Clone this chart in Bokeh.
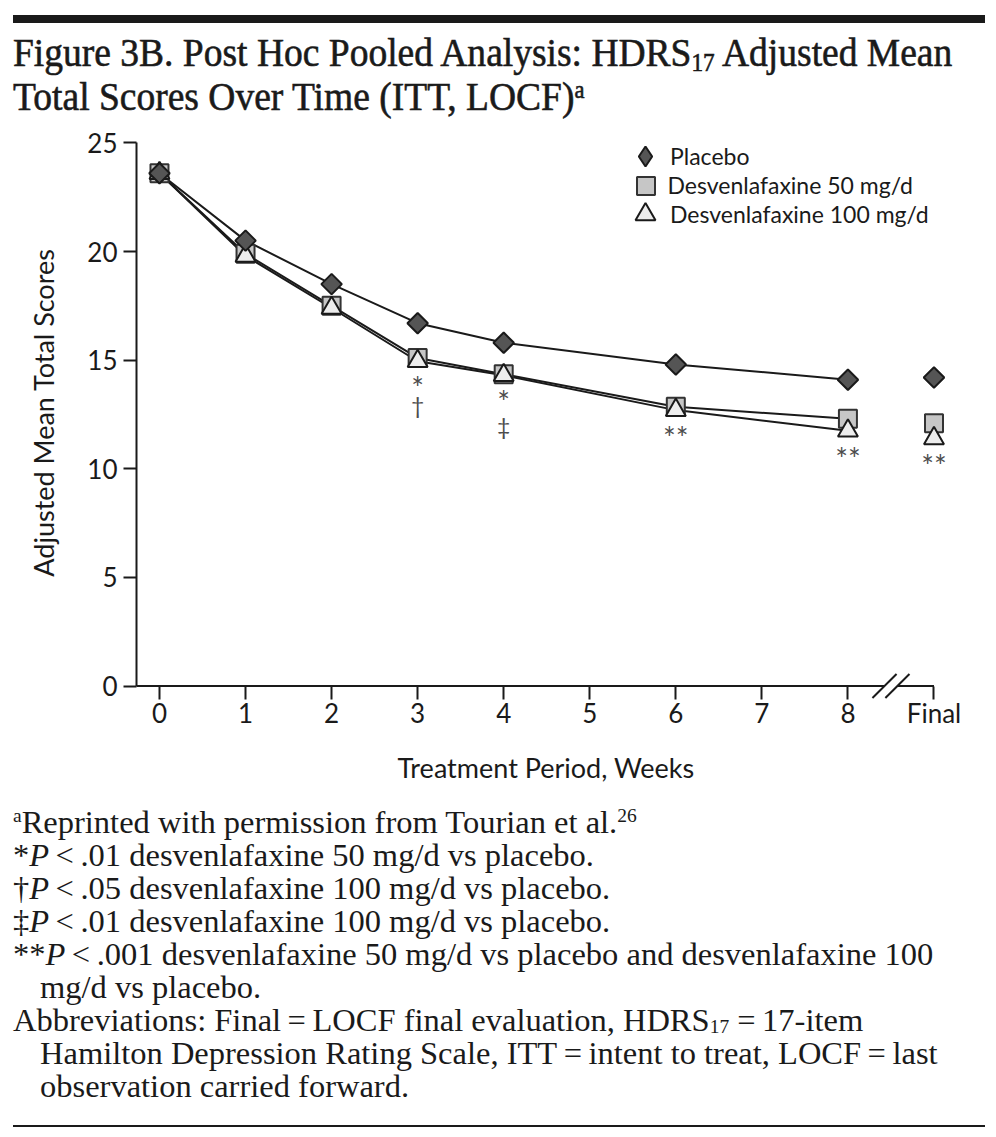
import numpy as np
from bokeh.plotting import figure
from bokeh.layouts import column
from bokeh.models import (Range1d, FixedTicker, Legend, LegendItem, Div)
from bokeh.core.properties import value
from bokeh.embed import file_html
from bokeh.resources import INLINE

# ---------------- data ----------------
tick_pos = [0, 1, 2, 3, 4, 5, 6, 7, 8, 9]
tick_labels = ["0", "1", "2", "3", "4", "5", "6", "7", "8", "Final"]
visit_x = [0, 1, 2, 3, 4, 6, 8]
final_x = [9]
placebo = [23.6, 20.5, 18.5, 16.7, 15.8, 14.8, 14.1]
dvs50 = [23.6, 19.9, 17.5, 15.1, 14.35, 12.85, 12.3]
dvs100 = [23.6, 19.8, 17.4, 14.95, 14.3, 12.7, 11.75]
final_placebo = [14.2]
final_dvs50 = [12.1]
final_dvs100 = [11.4]
series_names = ["Placebo", "Desvenlafaxine 50 mg/d", "Desvenlafaxine 100 mg/d"]
sig_x = [3, 3, 4, 4, 6, 8, 9]
sig_text = ["*", "\u2020", "*", "\u2021", "**", "**", "**"]
y_ticks = [0, 5, 10, 15, 20, 25]

# ---------------- styles ----------------
INK = "#1a1a1a"
SANS = "Lato"
sig_offset_px = {"*": 26, "**": 27, "\u2020": 44, "\u2021": 51}
sig_font_px = {"*": "30px", "**": "30px", "\u2020": "23px", "\u2021": "23px"}

p = figure(width=996, height=675,
           x_range=Range1d(-0.267, 9.25), y_range=Range1d(-0.62, 25.8),
           output_backend="svg", toolbar_location=None,
           min_border_left=136, min_border_right=41,
           min_border_top=5, min_border_bottom=96)
p.outline_line_color = None
p.grid.visible = False
p.background_fill_color = "white"
p.border_fill_color = "white"

# axes
xa = p.xaxis[0]
xa.ticker = FixedTicker(ticks=tick_pos)
xa.major_label_overrides = {t: l for t, l in zip(tick_pos, tick_labels)}
xa.axis_line_color = None
xa.major_tick_in = 13
xa.major_tick_out = 0
xa.major_tick_line_width = 2
xa.major_tick_line_color = INK
xa.minor_tick_line_color = None
xa.major_label_text_font = SANS
xa.major_label_text_font_size = "26px"
xa.major_label_text_color = INK
xa.major_label_standoff = -3
xa.axis_label = "Treatment Period, Weeks"
xa.axis_label_text_font = SANS
xa.axis_label_text_font_size = "27px"
xa.axis_label_text_font_style = "normal"
xa.axis_label_text_color = INK
xa.axis_label_standoff = 19

ya = p.yaxis[0]
ya.ticker = FixedTicker(ticks=y_ticks)
ya.bounds = (0, 25)
ya.axis_line_width = 2
ya.axis_line_color = INK
ya.major_tick_in = 0
ya.major_tick_out = 13
ya.major_tick_line_width = 2
ya.major_tick_line_color = INK
ya.minor_tick_line_color = None
ya.major_label_text_font = SANS
ya.major_label_text_font_size = "26px"
ya.major_label_text_color = INK
ya.major_label_standoff = 6
ya.axis_label = "Adjusted Mean Total Scores"
ya.axis_label_text_font = SANS
ya.axis_label_text_font_size = "27px"
ya.axis_label_text_font_style = "normal"
ya.axis_label_text_color = INK
ya.axis_label_standoff = 24

# x axis line with a break between week 8 and Final
brk = (tick_pos[-2] + tick_pos[-1]) / 2
gap = 0.075
p.segment(x0=[p.x_range.start, brk + gap], y0=[0, 0],
          x1=[brk - gap, tick_pos[-1]], y1=[0, 0],
          line_color=INK, line_width=2)
sdx, sdy = 0.14, 0.55
p.segment(x0=[brk - gap - sdx, brk + gap - sdx], y0=[-sdy, -sdy],
          x1=[brk - gap + sdx, brk + gap + sdx], y1=[sdy, sdy],
          line_color=INK, line_width=2)

# lines
for ys in (placebo, dvs50, dvs100):
    p.line(visit_x, ys, line_color=INK, line_width=2)

# markers
pl_style = dict(fill_color="#555555", line_color=INK, line_width=2)
r50 = p.scatter(visit_x + final_x, dvs50 + final_dvs50, marker="square", size=18,
                fill_color="#c6c6c6", line_color="#333333", line_width=2)
r100 = p.scatter(visit_x + final_x, dvs100 + final_dvs100, marker="triangle", size=20,
                 fill_color="#ededed", line_color=INK, line_width=2)
rpl = p.scatter(visit_x + final_x, placebo + final_placebo, marker="square",
                angle=np.pi / 4, size=14.5, **pl_style)
# legend key for placebo (legend keys ignore rotation, so a diamond marker stands in;
# its single point is NaN so nothing is drawn in the plot area)
rpl_key = p.scatter(x=[np.nan], y=[np.nan], marker="diamond", size=20, **pl_style)

# significance marks
all50 = dict(zip(visit_x + final_x, dvs50 + final_dvs50))
all100 = dict(zip(visit_x + final_x, dvs100 + final_dvs100))
for fs in sorted(set(sig_font_px.values())):
    idx = [i for i, t in enumerate(sig_text) if sig_font_px[t] == fs]
    xs = [sig_x[i] for i in idx]
    ts_ = [sig_text[i] for i in idx]
    ys_ = [min(all50[x], all100[x]) for x in xs]
    offs = [sig_offset_px[t] for t in ts_]
    p.text(x=xs, y=ys_, text=ts_, y_offset=offs,
           text_align="center", text_baseline="alphabetic",
           text_font=value(SANS), text_font_size=fs, text_color="#4d4d4d")

# legends (one per entry so each key gets its own size)
frame_bottom_px = 698.5
for name, r, g, cy in ((series_names[0], rpl_key, 50, 155),
                       (series_names[1], r50, 45, 184.5),
                       (series_names[2], r100, 50, 213.5)):
    lg = Legend(items=[LegendItem(label=name, renderers=[r])],
                location=(509 - g / 2, frame_bottom_px - (cy + g / 2)),
                glyph_width=g, glyph_height=g, label_height=g,
                label_standoff=max(0, int(23 - g / 2)),
                padding=0, margin=0, spacing=0,
                background_fill_alpha=0, border_line_color=None,
                label_text_font=SANS, label_text_font_size="23px",
                label_text_color=INK)
    p.add_layout(lg)

# ---------------- title and footnotes ----------------
serif = "font-family:Liberation Serif,serif;color:#1a1a1a;white-space:nowrap;"
sub_t = '<sub style="font-size:0.62em;vertical-align:-0.2em;line-height:0">17</sub>'
sub_f = '<sub style="font-size:0.6em;vertical-align:-0.1em;line-height:0">17</sub>'
title_html = (
    '<div style="position:relative;width:996px;height:120px;">'
    '<div style="position:absolute;left:13px;top:15px;width:972px;height:8px;background:#1a1a1a;"></div>'
    f'<div style="position:absolute;left:13px;top:30px;{serif}font-size:41px;line-height:44px;'
    'transform:scaleX(0.915);transform-origin:0 0;-webkit-text-stroke:0.6px #1a1a1a;">'
    f'Figure 3B. Post Hoc Pooled Analysis: HDRS{sub_t} Adjusted Mean<br>'
    'Total Scores Over Time (ITT, LOCF)<sup style="font-size:0.6em;vertical-align:0.5em;line-height:0">a</sup>'
    '</div></div>'
)
sup = 'style="font-size:0.6em;vertical-align:0.55em;line-height:0"'
ts = "\u2009"
foot_lines = [
    (0, f"<sup {sup}>a</sup>Reprinted with permission from Tourian et al.<sup {sup}>26</sup>"),
    (0, f"*<i>P</i>{ts}&lt;{ts}.01 desvenlafaxine 50 mg/d vs placebo."),
    (0, f"\u2020<i>P</i>{ts}&lt;{ts}.05 desvenlafaxine 100 mg/d vs placebo."),
    (0, f"\u2021<i>P</i>{ts}&lt;{ts}.01 desvenlafaxine 100 mg/d vs placebo."),
    (0, f"**<i>P</i>{ts}&lt;{ts}.001 desvenlafaxine 50 mg/d vs placebo and desvenlafaxine 100"),
    (1, "mg/d vs placebo."),
    (0, f"Abbreviations: Final{ts}={ts}LOCF final evaluation, HDRS{sub_f} ={ts}17-item"),
    (1, f"Hamilton Depression Rating Scale, ITT{ts}={ts}intent to treat, LOCF{ts}={ts}last"),
    (1, "observation carried forward."),
]
rows = "".join(
    f'<div style="padding-left:{27 * ind}px;height:33px;">{txt}</div>' for ind, txt in foot_lines
)
foot_html = (
    '<div style="position:relative;width:996px;height:342px;">'
    f'<div style="position:absolute;left:13px;top:10.5px;{serif}font-size:32.5px;line-height:33px;">{rows}</div>'
    '<div style="position:absolute;left:13px;top:330px;width:972px;height:2px;background:#1a1a1a;"></div>'
    '</div>'
)

top = Div(text=title_html, width=996, height=120, margin=0)
bottom = Div(text=foot_html, width=996, height=342, margin=0)
layout = column(top, p, bottom, spacing=0)

open("out.html", "w").write(file_html(layout, INLINE))
